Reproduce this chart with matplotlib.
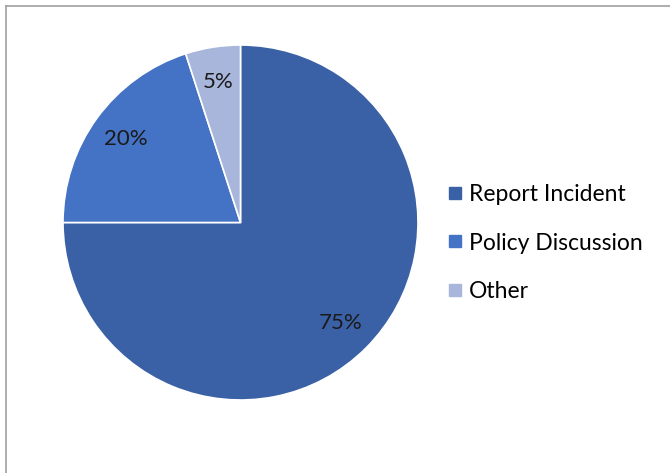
import matplotlib
matplotlib.use("Agg")
import matplotlib.pyplot as plt
from matplotlib.lines import Line2D

categories = ["Report Incident", "Policy Discussion", "Other"]
values = [75, 20, 5]
colors = ["#3A60A6", "#4472C4", "#A8B6DB"]

plt.rcParams['font.family'] = ['Lato', 'DejaVu Sans']

fig = plt.figure(figsize=(6.7, 4.73), dpi=100)
ax = fig.add_axes([63/670, 73/473, 355/670, 355/473])
wedges, texts, autotexts = ax.pie(
    values, colors=colors, startangle=90, counterclock=False,
    autopct='%1.0f%%', pctdistance=0.8,
    wedgeprops=dict(edgecolor='white', linewidth=1.2),
    textprops=dict(fontsize=16, color='#1a1a1a'))
ax.set_xlim(-1, 1)
ax.set_ylim(-1, 1)
ax.set_aspect('equal')
ax.axis('off')

handles = [Line2D([], [], marker='s', linestyle='none', markersize=8,
                  markerfacecolor=c, markeredgecolor=c) for c in colors]
fig.legend(handles, categories, loc='center left',
           bbox_to_anchor=(437/670, 1 - 243/473), frameon=False,
           fontsize=16.5, labelspacing=1.22, handletextpad=0.2,
           handlelength=0.8, borderaxespad=0)

# chart frame
fig.add_artist(Line2D([6/670, 6/670], [0, 1 - 6.5/473], transform=fig.transFigure,
                      color='#A0A0A0', linewidth=1.2))
fig.add_artist(Line2D([6/670, 1], [1 - 6.5/473, 1 - 6.5/473], transform=fig.transFigure,
                      color='#A0A0A0', linewidth=1.2))

fig.savefig("out.png", dpi=100)
